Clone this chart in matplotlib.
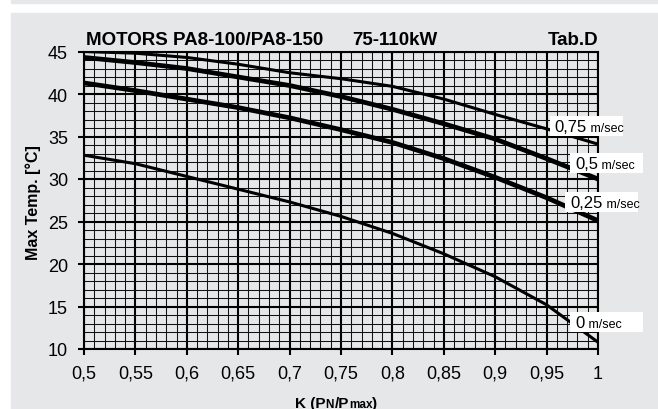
import matplotlib
matplotlib.use("Agg")
import matplotlib.pyplot as plt
from matplotlib.patches import Rectangle
from matplotlib.ticker import MultipleLocator, FuncFormatter
from matplotlib.transforms import offset_copy

plt.rcParams["font.family"] = ["Liberation Sans", "DejaVu Sans"]

# K = PN/Pmax
k = [0.5, 0.55, 0.6, 0.65, 0.7, 0.75, 0.8, 0.85, 0.9, 0.95, 1.0]
t_075 = [45.0, 44.8, 44.3, 43.5, 42.5, 41.8, 40.9, 39.4, 37.6, 35.9, 34.1]
t_050 = [44.3, 43.7, 43.0, 42.0, 41.0, 39.7, 38.2, 36.5, 34.7, 32.4, 30.0]
t_025 = [41.3, 40.4, 39.4, 38.4, 37.2, 35.8, 34.3, 32.4, 30.2, 27.8, 25.1]
t_000 = [32.8, 31.8, 30.3, 28.8, 27.3, 25.6, 23.6, 21.2, 18.5, 15.2, 10.8]
series = [t_075, t_050, t_025, t_000]
speeds = ["0,75", "0,5", "0,25", "0"]
widths = [2.2, 3.4, 3.4, 2.2]
# label boxes, lower-left corner in data units
label_x = [0.953, 0.973, 0.968, 0.973]
label_y = [35.06, 30.7, 26.12, 12.0]

GRAY = "#e6e7e8"

fig = plt.figure(figsize=(6.58, 4.10), dpi=100)
fig.patch.set_facecolor("white")
fig.add_artist(Rectangle((11/658, 0), 1, (410-14)/410, transform=fig.transFigure,
                         color=GRAY, zorder=-10))
fig.add_artist(Rectangle((11/658, 1-4/410), 1, 4/410, transform=fig.transFigure,
                         color=GRAY, zorder=-10))

ax = fig.add_axes([84/658, 60/410, 514/658, 297.5/410])
ax.set_facecolor(GRAY)
ax.set_xlim(0.5, 1.0)
ax.set_ylim(10, 45)

ax.xaxis.set_major_locator(MultipleLocator(0.05))
ax.xaxis.set_minor_locator(MultipleLocator(0.01))
ax.yaxis.set_major_locator(MultipleLocator(5))
ax.yaxis.set_minor_locator(MultipleLocator(1))
ax.xaxis.set_major_formatter(FuncFormatter(lambda v, p: f"{round(v, 2):g}".replace(".", ",")))
ax.grid(which="major", color="black", lw=1.5)
ax.grid(which="minor", color="#111111", lw=0.75)
ax.tick_params(which="major", direction="out", length=4.5, width=1.5, pad=7,
               labelsize=13, colors="black")
ax.tick_params(which="minor", length=0)
for s in ax.spines.values():
    s.set_linewidth(1.5)

for vals, lw in zip(series, widths):
    ax.plot(k, vals, color="black", lw=lw, solid_capstyle="butt", zorder=3)

r = fig.canvas.get_renderer()


def rich_text(x, y, parts, transform):
    # parts: (text, size, weight, kern after in px)
    dx = 0
    for s, size, weight, kern in parts:
        t = fig.text(x, y, s, fontsize=size, fontweight=weight, va="baseline", ha="left",
                     transform=offset_copy(transform, fig=fig, x=dx, y=0, units="dots"),
                     zorder=6)
        dx += t.get_window_extent(r).width + kern


for sp, bx, by in zip(speeds, label_x, label_y):
    ax.add_patch(Rectangle((bx, by), 0.071, 2.35, facecolor="white", edgecolor="none",
                           clip_on=False, zorder=5))
    rich_text(bx + 0.005, by + 0.55, [(sp, 12, "normal", 0), (" m/sec", 9, "normal", 0)],
              ax.transData)

# titles
fig.text(86/658, 1 - 45/410, "MOTORS PA8-100/PA8-150", fontsize=13.5, fontweight="bold",
         va="baseline")
fig.text(352/658, 1 - 45/410, "75-110kW", fontsize=13.5, fontweight="bold", va="baseline")
fig.text(598/658, 1 - 45/410, "Tab.D", fontsize=13.5, fontweight="bold", va="baseline",
         ha="right")

fig.text(33/658, 1 - 203/410, "Max Temp. [°C]", fontsize=11.5, fontweight="bold",
         rotation=90, ha="center", va="center")
rich_text(295/658, 2/410, [("K (P", 11, "bold", 0), ("N", 8.5, "bold", 0.5),
                           ("/P", 11, "bold", 0), ("max", 8.5, "bold", 0),
                           (")", 11, "bold", 0)], fig.transFigure)

fig.savefig("out.png", dpi=100)
